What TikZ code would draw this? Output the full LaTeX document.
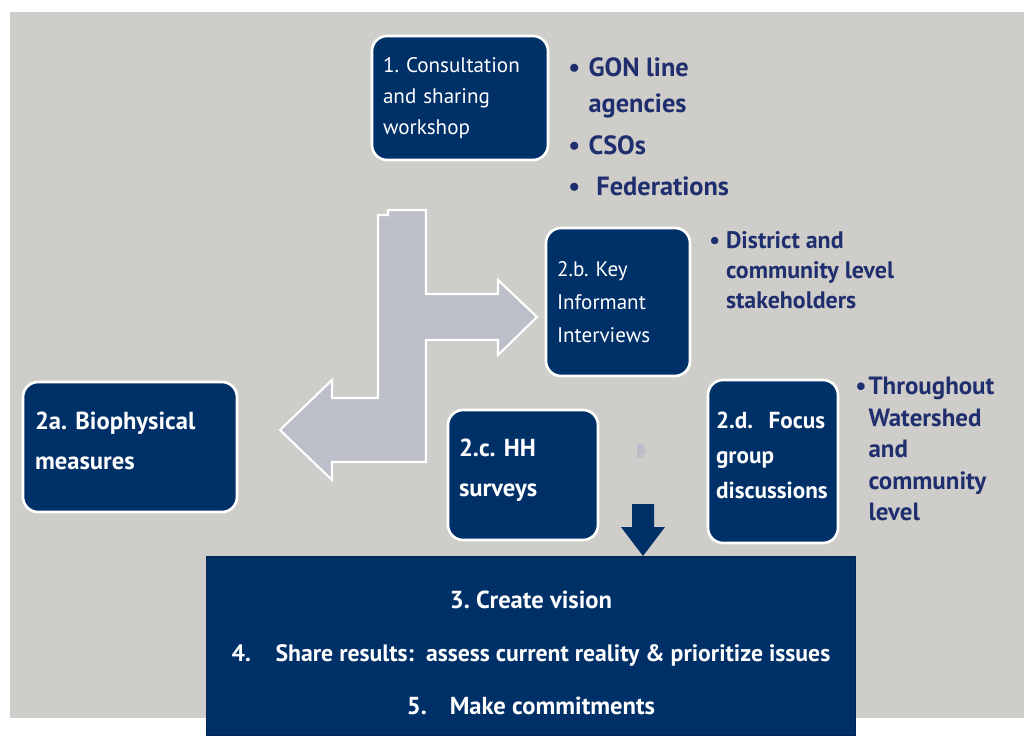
\documentclass[tikz,border=0pt]{standalone}
\usepackage{fontspec}
\setmainfont{PT Sans}
\frenchspacing
\hyphenpenalty=10000
\definecolor{navy}{RGB}{0,48,104}
\definecolor{bggray}{RGB}{206,205,201}
\definecolor{textnavy}{RGB}{31,46,110}
\definecolor{arrowgray}{RGB}{188,191,201}
\begin{document}
\begin{tikzpicture}[x=0.02cm,y=-0.02cm,
  box/.style={draw=white, line width=1.5pt, fill=navy, rounded corners=0.3cm,
    text=white, align=left, inner sep=0pt},
  btext/.style={text=textnavy, align=left, inner sep=0pt, anchor=west},
  blockarrow/.style={fill=arrowgray, draw=white, line width=1.2pt, line join=miter}]
\useasboundingbox (0,0) rectangle (1024,736);
\fill[bggray] (10,12) rectangle (1024,718);

% gray L-shaped block arrow
\draw[blockarrow] (378,215) -- (388,215) -- (388,210) -- (426,210) -- (426,294) -- (498,294)
  -- (498,280) -- (537,317) -- (498,355) -- (498,340) -- (426,340) -- (426,462)
  -- (332,462) -- (332,480) -- (280,430) -- (332,380) -- (332,398) -- (378,398) -- cycle;

% boxes
\node[box, minimum width=3.52cm, minimum height=2.48cm, text width=3.08cm,
  font=\fontsize{12}{17.6}\selectfont] (b1) at (460,98)
  {1. Consultation\\and sharing\\workshop};
\node[box, minimum width=2.88cm, minimum height=2.96cm, text width=2.44cm,
  font=\fontsize{12}{18.7}\selectfont] (b2b) at (618,302)
  {2.b. Key\\Informant\\Interviews};
\node[box, minimum width=4.28cm, minimum height=2.60cm, text width=3.80cm,
  font=\fontsize{14}{22.7}\selectfont\bfseries] (b2a) at (130,447)
  {2a. Biophysical\\measures\\[-16pt]\mbox{}};
\node[box, minimum width=3.00cm, minimum height=2.60cm, text width=2.56cm,
  font=\fontsize{14}{22.7}\selectfont\bfseries] (b2c) at (523,475)
  {2.c. HH\\surveys\\[-14pt]\mbox{}};
\node[box, minimum width=2.60cm, minimum height=3.26cm, text width=2.28cm,
  font=\fontsize{13.2}{20}\selectfont\bfseries] (b2d) at (773,461.5)
  {2.d.\ \ Focus\\group\\discussions\\[-13pt]\mbox{}};

% big bottom box
\node[fill=navy, draw=navy!80!black, line width=0.6pt, minimum width=13cm,
  minimum height=3.58cm, inner sep=0pt] (big) at (531,646.5) {};
\node[text=white, align=center, inner sep=0pt,
  font=\fontsize{14}{30}\selectfont\bfseries] (bigtext) at (531,653)
  {3. Create vision\\
   {\fontsize{13.5}{30}\selectfont 4.\hspace{14pt}Share results:\ \ assess current reality \& prioritize issues}\\
   5.\hspace{13pt}Make commitments};

% small dark down arrow
\fill[navy] (632,504) -- (654,504) -- (654,527) -- (665,527) -- (643,556) -- (621,527)
  -- (632,527) -- cycle;
% tiny gray mark
\fill[arrowgray] (637,444) -- (642,444) -- (646,451) -- (642,458) -- (637,458) -- cycle;

% bullet lists
\node[btext, font=\fontsize{15}{20.4}\selectfont\bfseries] (l1) at (568,127)
  {\makebox[11.5pt][l]{\textbullet}GON line\\
   \makebox[11.5pt]{}agencies\\[3.4pt]
   \makebox[11.5pt][l]{\textbullet}CSOs\\[3.4pt]
   \makebox[11.5pt][l]{\textbullet}\hspace{4.5pt}Federations};
\node[btext, font=\fontsize{13.6}{17}\selectfont\bfseries] (l2) at (709,270)
  {\makebox[9.5pt][l]{\textbullet}District and\\
   \makebox[9.5pt]{}community level\\
   \makebox[9.5pt]{}stakeholders};
\node[btext, font=\fontsize{14.2}{17.9}\selectfont\bfseries] (l3) at (855,449)
  {\makebox[7.5pt][l]{\textbullet}Throughout\\
   \makebox[7.5pt]{}Watershed\\
   \makebox[7.5pt]{}and\\
   \makebox[7.5pt]{}community\\
   \makebox[7.5pt]{}level};
\end{tikzpicture}
\end{document}
